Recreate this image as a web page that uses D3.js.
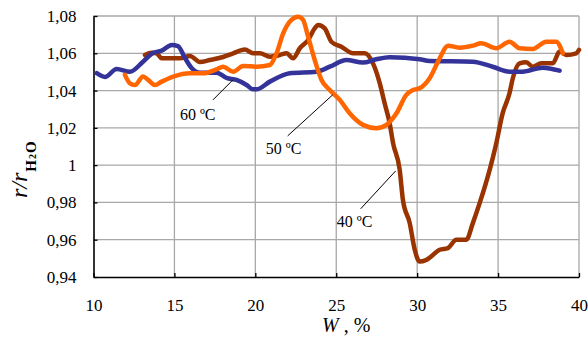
<!DOCTYPE html>
<html>
<head>
<meta charset="utf-8">
<script src="https://cdn.jsdelivr.net/npm/d3@7.9.0/dist/d3.min.js"></script>
<style>
  body { margin: 0; background: #fff; }
  svg { display: block; font-family: "Liberation Serif", "Times New Roman", serif; }
</style>
</head>
<body>
<svg id="chart" width="588" height="338"></svg>
<script>
// 40 ºC (brown)
const w40 = [13.18, 13.59, 13.9, 14.21, 14.72, 15.34, 15.96, 16.57, 17.19, 18.01, 18.63, 19.35, 19.86, 20.28, 20.9, 21.51, 21.93, 22.33, 22.75, 23.26, 23.67, 23.88, 24.29, 24.7, 25.32, 26.04, 26.76, 27.27, 27.69, 27.99, 28.3, 28.51, 28.92, 29.12, 29.54, 29.85, 30.15, 30.57, 31.39, 31.9, 32.42, 33.04, 33.44, 33.86, 34.48, 34.89, 35.28, 35.71, 35.91, 36.33, 36.74, 37.15, 37.67, 38.38, 38.8, 39.21, 39.83, 40.0];
const r40 = [1.0591, 1.0603, 1.06, 1.0573, 1.0573, 1.0573, 1.0586, 1.0553, 1.0564, 1.058, 1.06, 1.062, 1.06, 1.06, 1.0582, 1.0591, 1.06, 1.0573, 1.0627, 1.0671, 1.0734, 1.0752, 1.0734, 1.0662, 1.0635, 1.06, 1.06, 1.0546, 1.0439, 1.0332, 1.0225, 1.0118, 0.9975, 0.9814, 0.9689, 0.9546, 0.9483, 0.9492, 0.9546, 0.9555, 0.96, 0.96, 0.9689, 0.9796, 0.9975, 1.0118, 1.0278, 1.0387, 1.0466, 1.0546, 1.0552, 1.0528, 1.0546, 1.0546, 1.0609, 1.0591, 1.06, 1.0618];

// 50 ºC (orange)
const w50 = [11.94, 12.25, 12.56, 13.07, 13.38, 13.8, 14.21, 14.93, 15.96, 16.78, 17.6, 18.01, 18.63, 19.25, 20.07, 20.9, 21.31, 21.72, 22.23, 22.64, 22.95, 23.26, 23.67, 24.09, 24.6, 25.22, 25.83, 26.65, 27.48, 28.1, 28.72, 29.33, 29.74, 30.15, 30.77, 31.39, 31.9, 32.62, 33.44, 33.96, 34.89, 35.71, 36.33, 37.15, 37.98, 38.59, 39.0];
const r50 = [1.0484, 1.0439, 1.043, 1.0475, 1.0457, 1.043, 1.0448, 1.0475, 1.0493, 1.0493, 1.0514, 1.0528, 1.0501, 1.0532, 1.0528, 1.0537, 1.06, 1.0707, 1.0779, 1.0796, 1.0779, 1.0689, 1.0564, 1.0457, 1.0403, 1.035, 1.0278, 1.0216, 1.0198, 1.0216, 1.0278, 1.0377, 1.0403, 1.0412, 1.0466, 1.0573, 1.0641, 1.063, 1.0641, 1.0654, 1.0627, 1.0662, 1.0627, 1.0623, 1.0662, 1.0662, 1.06];

// 60 ºC (blue)
const w60 = [10.2, 10.71, 11.43, 12.25, 13.06, 13.67, 14.21, 14.83, 15.22, 15.65, 16.06, 16.57, 17.6, 18.22, 18.84, 19.46, 19.85, 20.07, 20.9, 22.13, 23.78, 24.6, 25.63, 26.64, 27.48, 28.3, 30.15, 30.77, 33.43, 34.66, 35.71, 36.51, 37.75, 38.8];
const r60 = [1.0493, 1.0473, 1.0516, 1.0501, 1.0555, 1.0602, 1.0614, 1.0645, 1.0639, 1.0575, 1.0521, 1.0496, 1.0496, 1.0468, 1.0457, 1.043, 1.0407, 1.0407, 1.0448, 1.0493, 1.0501, 1.0528, 1.0564, 1.055, 1.0568, 1.0579, 1.0568, 1.0559, 1.0555, 1.0528, 1.0501, 1.0501, 1.0523, 1.0507];

const xTicks = [10, 15, 20, 25, 30, 35, 40];
const yTicks = [0.94, 0.96, 0.98, 1.0, 1.02, 1.04, 1.06, 1.08];
const yTickLabels = ["0,94", "0,96", "0,98", "1", "1,02", "1,04", "1,06", "1,08"];

// label text, text anchor (W, r), leader line from (W, r) to (W, r)
const labels = ["40 ºC", "50 ºC", "60 ºC"];
const labelAt = [[25.03, 0.9669], [20.65, 1.006], [15.34, 1.0243]];
const leaderFrom = [[26.51, 0.9766], [22.0, 1.0157], [17.38, 1.035]];
const leaderTo = [[28.67, 0.9969], [24.78, 1.0377], [18.61, 1.0457]];

const svg = d3.select("#chart");
const margin = { left: 93.5, right: 9, top: 16, bottom: 61 };
const width = 588 - margin.left - margin.right;
const height = 338 - margin.top - margin.bottom;

const x = d3.scaleLinear().domain([10, 40]).range([margin.left, margin.left + width]);
const y = d3.scaleLinear().domain([0.94, 1.08]).range([margin.top + height, margin.top]);

// grid
const grid = svg.append("g").attr("stroke", "#a8a8a8").attr("stroke-width", 1.3);
xTicks.slice(1).forEach((t) => {
  grid.append("line").attr("x1", x(t)).attr("x2", x(t)).attr("y1", y(0.94)).attr("y2", y(1.08));
});
yTicks.slice(1).forEach((t) => {
  grid.append("line").attr("x1", x(10)).attr("x2", x(40)).attr("y1", y(t)).attr("y2", y(t));
});

// axes
const xAxis = d3.axisBottom(x).tickValues(xTicks).tickSizeInner(-4).tickSizeOuter(0).tickPadding(22);
const yAxis = d3.axisLeft(y).tickValues(yTicks).tickSizeInner(-4).tickSizeOuter(0).tickPadding(17)
  .tickFormat((d, i) => yTickLabels[i]);

const gx = svg.append("g").attr("transform", `translate(0,${y(0.94)})`).call(xAxis);
const gy = svg.append("g").attr("transform", `translate(${x(10)},0)`).call(yAxis);
[gx, gy].forEach((g) => {
  g.attr("font-family", "Liberation Serif");
  g.select(".domain").attr("stroke", "#000").attr("stroke-width", 1.6);
  g.selectAll(".tick line").attr("stroke", "#000").attr("stroke-width", 1.3);
  g.selectAll(".tick text").attr("font-size", 17).attr("fill", "#000");
});

// series
const line = d3.line().x((d) => x(d[0])).y((d) => y(d[1])).curve(d3.curveMonotoneX);
const series = [
  { w: w40, r: r40, color: "#993300" },
  { w: w60, r: r60, color: "#333399" },
  { w: w50, r: r50, color: "#ff6600" }
];
series.forEach((s) => {
  svg.append("path")
    .attr("d", line(d3.zip(s.w, s.r)))
    .attr("fill", "none")
    .attr("stroke", s.color)
    .attr("stroke-width", 4.5)
    .attr("stroke-linejoin", "round")
    .attr("stroke-linecap", "round");
});

// annotations
labels.forEach((txt, i) => {
  svg.append("line")
    .attr("x1", x(leaderFrom[i][0])).attr("y1", y(leaderFrom[i][1]))
    .attr("x2", x(leaderTo[i][0])).attr("y2", y(leaderTo[i][1]))
    .attr("stroke", "#000").attr("stroke-width", 1);
  svg.append("text")
    .attr("x", x(labelAt[i][0])).attr("y", y(labelAt[i][1]))
    .attr("font-size", 16)
    .text(txt);
});

// axis titles
const xt = svg.append("text").attr("x", 322).attr("y", 332).attr("font-size", 20);
xt.append("tspan").attr("font-style", "italic").text("W");
xt.append("tspan").text(" , %");

const yt = svg.append("text")
  .attr("transform", "translate(27,198) rotate(-90)")
  .attr("font-size", 24);
yt.append("tspan").attr("font-style", "italic").text("r/r");
const sub = yt.append("tspan").attr("dy", 9).attr("dx", 1).attr("font-size", 15)
  .attr("font-weight", "bold").attr("letter-spacing", 1);
sub.append("tspan").text("H");
sub.append("tspan").attr("font-size", 10).text("2");
sub.append("tspan").text("O");
</script>
</body>
</html>
